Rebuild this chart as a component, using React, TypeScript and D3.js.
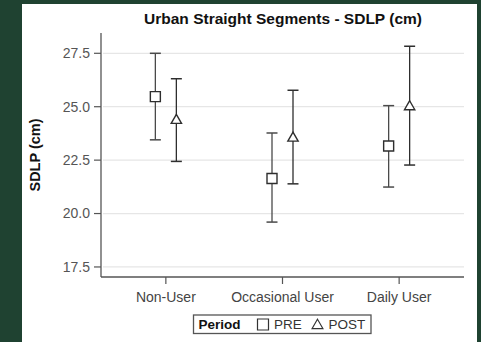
import React from 'react';
import { scaleLinear, scalePoint, symbol, symbolSquare, symbolTriangle } from 'd3';

const width = 481;
const height = 342;
const margin = { top: 33, right: 17, bottom: 65, left: 101 };

const categories = ['Non-User', 'Occasional User', 'Daily User'];
const periods = ['PRE', 'POST'];
const yTicks = [17.5, 20.0, 22.5, 25.0, 27.5];

// mean, lower, upper per category
const preMean = [25.47, 21.64, 23.16];
const preLow = [23.45, 19.6, 21.24];
const preHigh = [27.5, 23.77, 25.05];
const postMean = [24.36, 23.53, 25.0];
const postLow = [22.44, 21.39, 22.27];
const postHigh = [26.31, 25.77, 27.83];

const font = 'Arial, "Liberation Sans", Helvetica, sans-serif';

const App = () => {
  const innerWidth = width - margin.left - margin.right;
  const innerHeight = height - margin.top - margin.bottom;

  const xScale = scalePoint<string>().domain(categories).range([0, innerWidth]).padding(0.556);
  const yScale = scaleLinear().domain([17.03, 28.45]).range([innerHeight, 0]);

  const offset = 10.5;
  const series = [
    { name: periods[0], mean: preMean, low: preLow, high: preHigh, dx: -offset, type: symbolSquare, size: 100, stroke: '#4a4a4a' },
    { name: periods[1], mean: postMean, low: postLow, high: postHigh, dx: offset, type: symbolTriangle, size: 46, stroke: '#2e2e2e' },
  ];

  const squarePath = symbol(symbolSquare, 100)() as string;
  const trianglePath = symbol(symbolTriangle, 52)() as string;

  return (
    <svg width={width} height={height} style={{ position: 'absolute', left: 0, top: 0 }}>
      <rect width={width} height={height} fill="#1f4231" />
      <rect x={22} y={4} width={455} height={height - 4} fill="#ffffff" />

      <text x={283} y={24} textAnchor="middle" fontFamily={font} fontWeight="bold" fontSize={15.5} fill="#111">
        Urban Straight Segments - SDLP (cm)
      </text>

      <g transform={`translate(${margin.left},${margin.top})`}>
        {/* grid + y axis */}
        {yTicks.map(t => (
          <g key={t} transform={`translate(0,${yScale(t)})`}>
            <line x1={2} x2={innerWidth} stroke="#e6e6e6" strokeWidth={1.2} />
            <line x1={-7} x2={0} stroke="#555" strokeWidth={1.2} />
            <text x={-11} dy=".35em" textAnchor="end" fontFamily={font} fontSize={14} fill="#555">
              {t.toFixed(1)}
            </text>
          </g>
        ))}
        <line x1={0} x2={0} y1={0} y2={innerHeight} stroke="#555" strokeWidth={1.3} />
        <line x1={0} x2={innerWidth} y1={innerHeight} y2={innerHeight} stroke="#555" strokeWidth={1.3} />

        {categories.map(c => (
          <g key={c} transform={`translate(${xScale(c)},${innerHeight})`}>
            <line y1={0} y2={7} stroke="#555" strokeWidth={1.2} />
            <text y={25} textAnchor="middle" fontFamily={font} fontSize={14} fill="#444">
              {c}
            </text>
          </g>
        ))}

        {/* error bars + markers */}
        {series.map(s =>
          categories.map((c, i) => {
            const x = (xScale(c) as number) + s.dx;
            return (
              <g key={s.name + c}>
                <line x1={x} x2={x} y1={yScale(s.low[i])} y2={yScale(s.high[i])} stroke={s.stroke} strokeWidth={1.3} />
                <line x1={x - 5.5} x2={x + 5.5} y1={yScale(s.low[i])} y2={yScale(s.low[i])} stroke={s.stroke} strokeWidth={1.5} />
                <line x1={x - 5.5} x2={x + 5.5} y1={yScale(s.high[i])} y2={yScale(s.high[i])} stroke={s.stroke} strokeWidth={1.5} />
                <path
                  d={symbol(s.type, s.size)() as string}
                  transform={`translate(${x},${yScale(s.mean[i])})`}
                  fill="#fff"
                  stroke="#2e2e2e"
                  strokeWidth={1.4}
                />
              </g>
            );
          })
        )}
      </g>

      {/* legend */}
      <g>
        <rect x={193.5} y={315} width={177.5} height={18.5} fill="#fff" stroke="#555" strokeWidth={1.3} />
        <text x={198.5} y={329} fontFamily={font} fontWeight="bold" fontSize={13.5} fill="#111">
          Period
        </text>
        <path d={squarePath} transform="translate(263,324.5) scale(1.1)" fill="#fff" stroke="#333" strokeWidth={1.1} />
        <text x={274} y={329} fontFamily={font} fontSize={13.5} fill="#333">
          {periods[0]}
        </text>
        <path d={trianglePath} transform="translate(317.5,325.5)" fill="#fff" stroke="#333" strokeWidth={1.1} />
        <text x={328.5} y={329} fontFamily={font} fontSize={13.5} fill="#333">
          {periods[1]}
        </text>
      </g>

      <text
        transform="translate(40,155) rotate(-90)"
        textAnchor="middle"
        fontFamily={font}
        fontWeight="bold"
        fontSize={14.5}
        fill="#111"
      >
        SDLP (cm)
      </text>
    </svg>
  );
};

export default App;
